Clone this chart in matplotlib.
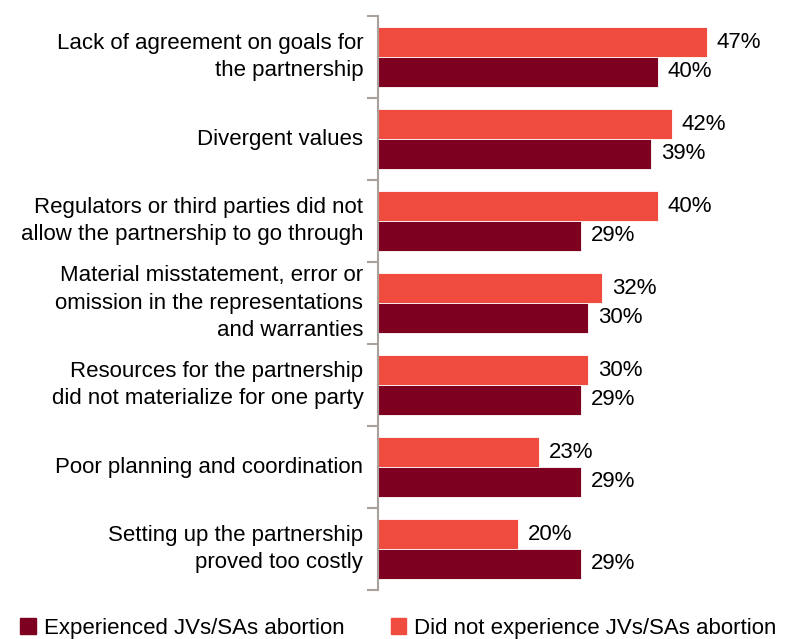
import matplotlib.pyplot as plt
from matplotlib.patches import Patch
import numpy as np

plt.rcParams['font.family'] = ['Liberation Sans', 'DejaVu Sans']

# Categories from top to bottom
categories = [
    "Lack of agreement on goals for\nthe partnership",
    "Divergent values",
    "Regulators or third parties did not\nallow the partnership to go through",
    "Material misstatement, error or\nomission in the representations\nand warranties",
    "Resources for the partnership\ndid not materialize for one party",
    "Poor planning and coordination",
    "Setting up the partnership\nproved too costly",
]
did_not_experience = [47, 42, 40, 32, 30, 23, 20]
experienced = [40, 39, 29, 30, 29, 29, 29]

c_light = "#F04B3F"
c_dark = "#7E0020"
c_axis = "#A9A29C"
fs = 16

fig = plt.figure(figsize=(7.88, 6.39), dpi=100)
ax = fig.add_axes([378 / 788, 1 - 590 / 639, 410 / 788, 574 / 639])

n = len(categories)
y = np.arange(n)
h = 0.36
ax.barh(y - h / 2, did_not_experience, height=h, color=c_light, edgecolor="white", linewidth=0.6)
ax.barh(y + h / 2, experienced, height=h, color=c_dark, edgecolor="white", linewidth=0.6)

for i in range(n):
    ax.text(did_not_experience[i] + 1.4, y[i] - h / 2, f"{did_not_experience[i]}%",
            va="center", ha="left", fontsize=fs)
    ax.text(experienced[i] + 1.4, y[i] + h / 2, f"{experienced[i]}%",
            va="center", ha="left", fontsize=fs)
    ax.text(-2.1, y[i], categories[i], va="center", ha="right", fontsize=fs,
            linespacing=1.4)

ax.set_xlim(0, 410 / 7.0)
ax.set_ylim(n - 0.5, -0.5)
ax.set_xticks([])
ax.set_yticks(np.arange(n + 1) - 0.5)
ax.set_yticklabels([])
ax.tick_params(axis="y", direction="out", length=8, width=1.5, color=c_axis)
for s in ["top", "right", "bottom"]:
    ax.spines[s].set_visible(False)
ax.spines["left"].set_color(c_axis)
ax.spines["left"].set_linewidth(1.5)

handles = [Patch(color=c_dark), Patch(color=c_light)]
fig.legend(handles, ["Experienced JVs/SAs abortion", "Did not experience JVs/SAs abortion"],
           loc="lower left", bbox_to_anchor=(0.006, -0.024), ncol=2, frameon=False,
           fontsize=fs, handlelength=0.7, handleheight=0.7, handletextpad=0.35,
           columnspacing=2.1, borderaxespad=0.3)

fig.savefig("out.png", dpi=100)
